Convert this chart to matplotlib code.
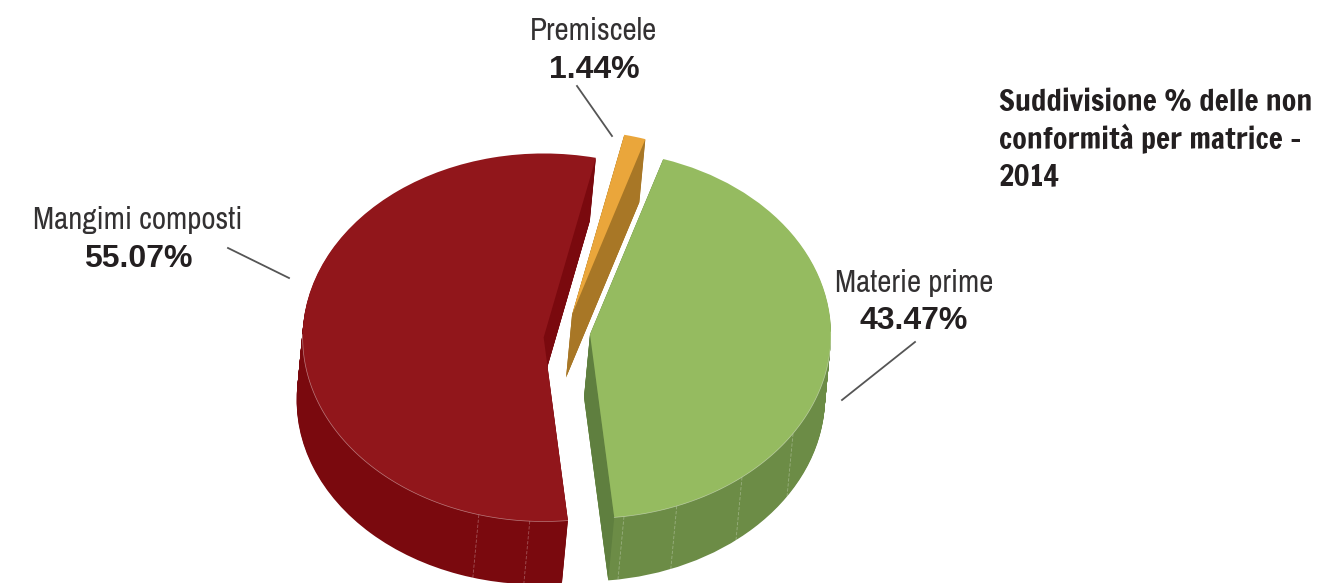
import numpy as np
import matplotlib
matplotlib.use('Agg')
import matplotlib.pyplot as plt

# data
categories = ['Materie prime', 'Mangimi composti', 'Premiscele']
values = [43.47, 55.07, 1.44]
title_lines = ['Suddivisione % delle non', 'conformità per matrice -', '2014']

# colours (top, rim, cut face)
top_colors = ['#95bb60', '#91161b', '#eaa63b']
rim_colors = ['#6c8c46', '#7a090e', '#a87726']
cut_colors = ['#5f7f3f', '#7a090e', '#a87726']

W, H = 1319, 583
RX, RY = 241.0, 184.0  # pie radius in pixels, squashed for the tilt
DEPTH = 63
SHIFT_X = -6.0
NARROW = ['Archivo Narrow', 'Liberation Sans']
TITLE_FONT = ['Francois One', 'Liberation Sans']


def px(x, y):
    return x / RX, (H - y) / RY


fig = plt.figure(figsize=(W / 100, H / 100), dpi=100)
ax = fig.add_axes([0, 0, 1, 1])

center = px(566, 335)
explode = [0.096, 0.095, 0.113]
start = 72.3
# small per slice shift in pixels, the original has some perspective
nudge = [(1, -2.5), (0.5, 3.5), (-1, -0.5)]


def draw_pie(c, cols):
    wedges, _ = ax.pie(values, explode=explode, colors=cols, startangle=start, counterclock=False,
                       center=c, wedgeprops={'linewidth': 0.3, 'edgecolor': 'none'})
    for w, (nx, ny) in zip(wedges, nudge):
        w.set_center((w.center[0] + nx / RX, w.center[1] - ny / RY))
    return wedges


# side walls: the pie stacked downwards
for k in range(DEPTH, 0, -1):
    draw_pie((center[0] + SHIFT_X * k / DEPTH / RX, center[1] - k / RY), rim_colors)

top = draw_pie(center, top_colors)

off = np.array([SHIFT_X / RX, -DEPTH / RY])

# cut faces
for w, col in zip(top, cut_colors):
    cen = np.array(w.center)
    for th in (w.theta1, w.theta2):
        p = cen + w.r * np.array([np.cos(np.radians(th)), np.sin(np.radians(th))])
        poly = np.array([cen, p, p + off, cen + off])
        ax.fill(poly[:, 0], poly[:, 1], color=col, lw=0, zorder=1.5)
for w in top:
    w.set_zorder(2)
    # thin light rim on the front edge
    th = np.radians(np.linspace(w.theta1, w.theta2, 200))
    xs = w.center[0] + w.r * np.cos(th)
    ys = w.center[1] + w.r * np.sin(th)
    m = ys < w.center[1] + 0.02
    ax.plot(xs[m], ys[m], color='white', alpha=0.45, lw=0.5, zorder=2.1)

# seams on the rim (clockwise from the top)
seams = {0: [171.9, 158.9, 140.9, 122.6], 1: [195.6, 183.3]}
for i, angs in seams.items():
    cen = np.array(top[i].center)
    for a in angs:
        p = cen + np.array([np.sin(np.radians(a)), np.cos(np.radians(a))])
        ax.plot([p[0], p[0] + off[0]], [p[1], p[1] + off[1]], color='white', alpha=0.3,
                lw=0.6, ls=(0, (4, 2)), zorder=1.8)

ax.set_aspect('auto')
ax.set_xlim(0, W / RX)
ax.set_ylim(0, H / RY)
ax.axis('off')

# labels
label_pos = [(914, 283, 321), (138, 220, 259), (594, 31, 70)]
for name, v, (x, y1, y2) in zip(categories, values, label_pos):
    ax.text(*px(x, y1), name, family=NARROW, fontsize=22.4, color='#333132', ha='center', va='center')
    ax.text(*px(x, y2), f'{v:.2f}%', family='Liberation Sans', weight='bold', fontsize=23,
            color='#231f20', ha='center', va='center')

# leader lines
leaders = [((915, 342), (842, 400)), ((228, 248), (289, 278)), ((577, 86), (612, 136))]
for a, b in leaders:
    pa, pb = px(*a), px(*b)
    ax.plot([pa[0], pb[0]], [pa[1], pb[1]], color='#555555', lw=1.3, zorder=3)

# title
for line, y in zip(title_lines, [102, 139, 176]):
    ax.text(*px(999, y), line, family=TITLE_FONT, fontsize=21.4,
            color='#231f20', ha='left', va='center')

fig.savefig('out.png', dpi=100, facecolor='white')
